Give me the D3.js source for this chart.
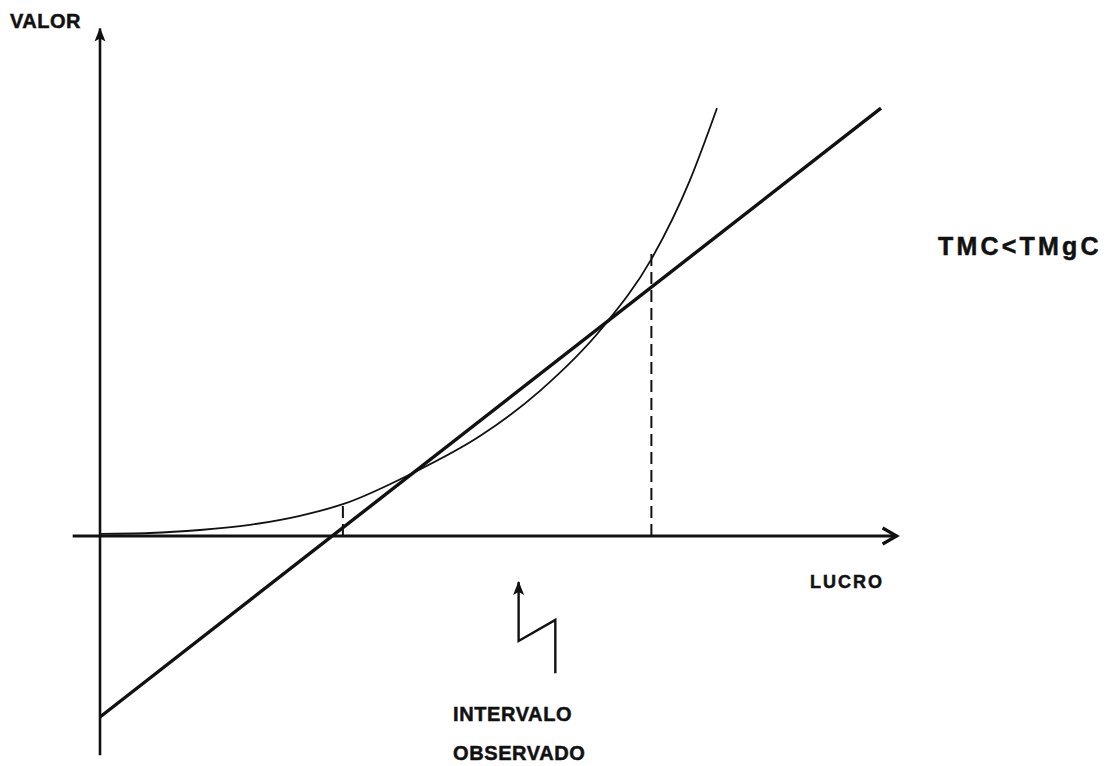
<!DOCTYPE html>
<html>
<head>
<meta charset="utf-8">
<script src="https://cdn.jsdelivr.net/npm/d3@7"></script>
<style>
  body { margin: 0; background: #fff; }
  svg text { font-family: "Liberation Sans", Arial, sans-serif; font-weight: bold; fill: #111; stroke: #111; stroke-width: 0.5px; }
</style>
</head>
<body>
<div id="chart"></div>
<script>
// Curva de custo (TMgC) - lucro x valor
const curveLucro = [0, 0.64, 1.28, 1.92, 2.56, 3.11, 4.01, 4.87, 5.63, 6.44, 7.06, 7.55, 7.90];
const curveValor = [0.05, 0.07, 0.14, 0.26, 0.47, 0.74, 1.47, 2.33, 3.37, 4.86, 6.44, 8.26, 9.95];

// Reta (TMC)
const lineLucro = [0, 10];
const lineValor = [-4.21, 9.95];

// Intervalo observado (linhas tracejadas)
const intervaloLucro = [3.11, 7.06];
const intervaloValor = [0.74, 6.7];

// Seta em zigue-zague apontando para o eixo
const setaLucro = [5.83, 5.83, 5.36, 5.36];
const setaValor = [-3.19, -1.95, -2.44, -1.07];

// Extensao dos eixos
const eixoLucro = [-0.35, 10.2];
const eixoValor = [-5.1, 11.8];

const labels = {
  valor: 'VALOR',
  lucro: 'LUCRO',
  relacao: 'TMC<TMgC',
  intervalo: ['INTERVALO', 'OBSERVADO']
};

class CostDiagram {

    constructor(_config = {}) {
        this.config = {
            parentElement: _config.parentElement,
            containerWidth: 1112,
            containerHeight: 766,
            originX: 100,
            originY: 536,
            unitX: 78.1,
            unitY: 43
        };
        this.initVis();
    }

    initVis() {
        let vis = this;
        let { parentElement, containerWidth, containerHeight, originX, originY, unitX, unitY } = vis.config;

        vis.svg = d3.select(parentElement).append('svg')
            .attr('width', containerWidth)
            .attr('height', containerHeight);

        vis.x = d3.scaleLinear().domain([0, 10]).range([originX, originX + 10 * unitX]);
        vis.y = d3.scaleLinear().domain([0, 10]).range([originY, originY - 10 * unitY]);

        const defs = vis.svg.append('defs');

        defs.append('marker')
            .attr('id', 'arrow-fill')
            .attr('markerUnits', 'userSpaceOnUse')
            .attr('viewBox', '0 0 14 12')
            .attr('refX', 13).attr('refY', 6)
            .attr('markerWidth', 14).attr('markerHeight', 12)
            .attr('orient', 'auto')
            .append('path')
            .attr('d', 'M0,0.5 L14,6 L0,11.5 L3,6 Z')
            .attr('fill', '#111');

        defs.append('marker')
            .attr('id', 'arrow-open')
            .attr('markerUnits', 'userSpaceOnUse')
            .attr('viewBox', '0 0 20 20')
            .attr('refX', 17).attr('refY', 10)
            .attr('markerWidth', 20).attr('markerHeight', 20)
            .attr('orient', 'auto')
            .append('path')
            .attr('d', 'M3,2 L17,10 L3,18')
            .attr('fill', 'none')
            .attr('stroke', '#111')
            .attr('stroke-width', 3.2);

        vis.renderVis();
    }

    renderVis() {
        let vis = this;
        const { x, y } = vis;

        const line = d3.line().x(d => x(d[0])).y(d => y(d[1]));

        // Eixos
        vis.svg.append('line')
            .attr('x1', x(0)).attr('x2', x(0))
            .attr('y1', y(eixoValor[0])).attr('y2', y(eixoValor[1]))
            .attr('stroke', '#111').attr('stroke-width', 2.6)
            .attr('marker-end', 'url(#arrow-fill)');

        vis.svg.append('line')
            .attr('x1', x(eixoLucro[0])).attr('x2', x(eixoLucro[1]))
            .attr('y1', y(0)).attr('y2', y(0))
            .attr('stroke', '#111').attr('stroke-width', 2.8)
            .attr('marker-end', 'url(#arrow-open)');

        // Linhas tracejadas do intervalo
        vis.svg.selectAll('.intervalo')
            .data(intervaloLucro.map((d, i) => [d, intervaloValor[i]]))
            .join('line')
            .attr('class', 'intervalo')
            .attr('x1', d => x(d[0])).attr('x2', d => x(d[0]))
            .attr('y1', y(0)).attr('y2', d => y(d[1]))
            .attr('stroke', '#111').attr('stroke-width', 2)
            .attr('stroke-dasharray', '12,6');

        // Curva
        vis.svg.append('path')
            .datum(curveLucro.map((d, i) => [d, curveValor[i]]))
            .attr('d', d3.line().x(d => x(d[0])).y(d => y(d[1])).curve(d3.curveMonotoneX))
            .attr('fill', 'none')
            .attr('stroke', '#111')
            .attr('stroke-width', 1.8);

        // Reta
        vis.svg.append('path')
            .datum(lineLucro.map((d, i) => [d, lineValor[i]]))
            .attr('d', line)
            .attr('fill', 'none')
            .attr('stroke', '#111')
            .attr('stroke-width', 3.4);

        // Seta em zigue-zague
        vis.svg.append('path')
            .datum(setaLucro.map((d, i) => [d, setaValor[i]]))
            .attr('d', line)
            .attr('fill', 'none')
            .attr('stroke', '#111')
            .attr('stroke-width', 2.4)
            .attr('marker-end', 'url(#arrow-fill)');

        // Textos
        vis.svg.append('text')
            .attr('x', 10).attr('y', 28)
            .style('font-size', '20px')
            .style('letter-spacing', '0.5px')
            .text(labels.valor);

        vis.svg.append('text')
            .attr('x', 810).attr('y', 588)
            .style('font-size', '18px')
            .style('letter-spacing', '2px')
            .text(labels.lucro);

        vis.svg.append('text')
            .attr('x', 938).attr('y', 255)
            .style('font-size', '25px')
            .style('letter-spacing', '3.2px')
            .text(labels.relacao);

        vis.svg.selectAll('.intervalo-label')
            .data(labels.intervalo)
            .join('text')
            .attr('class', 'intervalo-label')
            .attr('x', 453)
            .attr('y', (d, i) => 721 + i * 39)
            .style('font-size', '20px')
            .style('letter-spacing', '0.6px')
            .text(d => d);
    }
}

new CostDiagram({ parentElement: '#chart' });
</script>
</body>
</html>
